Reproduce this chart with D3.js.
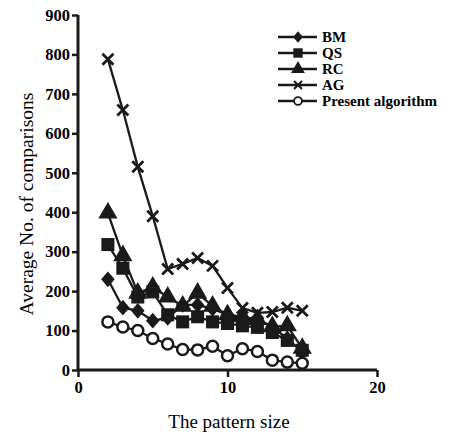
<!DOCTYPE html>
<html>
<head>
<meta charset="utf-8">
<script src="https://cdn.jsdelivr.net/npm/d3@7"></script>
<style>
  body { margin: 0; background: #fff; }
  svg text { font-family: "Liberation Serif", "Times New Roman", serif; fill: #000; }
</style>
</head>
<body>
<svg width="464" height="435"></svg>
<script>
// data ======================================================
var sizes = [2, 3, 4, 5, 6, 7, 8, 9, 10, 11, 12, 13, 14, 15];
var bm = [230, 158, 150, 125, 132, 165, 165, 155, 140, 128, 130, 108, 80, 45];
var qs = [318, 258, 185, 198, 140, 122, 135, 122, 118, 112, 108, 95, 75, 50];
var rc = [398, 290, 195, 210, 185, 162, 195, 162, 140, 135, 128, 110, 112, 55];
var ag = [788, 659, 515, 390, 256, 269, 284, 264, 208, 157, 145, 147, 158, 150];
var present = [122, 109, 100, 80, 66, 52, 51, 60, 36, 54, 47, 25, 20, 17];
var seriesNames = ["BM", "QS", "RC", "AG", "Present algorithm"];
var xTicks = [0, 10, 20];
var yTicks = [0, 100, 200, 300, 400, 500, 600, 700, 800, 900];

var ink = "#1a1a1a";

// setup =====================================================
var svg = d3.select("svg");
var x = d3.scaleLinear().domain([0, 20]).range([78, 377]);
var y = d3.scaleLinear().domain([0, 900]).range([370, 15]);

// axes
var xAxis = svg.append("g")
  .attr("transform", "translate(0,370)")
  .call(d3.axisBottom(x).tickValues(xTicks).tickSize(7).tickPadding(4).tickFormat(d3.format("d")));
var yAxis = svg.append("g")
  .attr("transform", "translate(78,0)")
  .call(d3.axisLeft(y).tickValues(yTicks).tickSize(6).tickPadding(2).tickFormat(d3.format("d")));

[xAxis, yAxis].forEach(function(a) {
  a.select(".domain").attr("stroke", ink).attr("stroke-width", 3);
  a.selectAll(".tick line").attr("stroke", ink).attr("stroke-width", 2.5);
  a.selectAll(".tick text")
    .attr("fill", "#000")
    .style("font-family", "'Liberation Serif', serif")
    .style("font-weight", "bold")
    .style("font-size", "16.5px");
});
xAxis.select(".domain").attr("d", "M78,0H377");
yAxis.select(".domain").attr("d", "M0,15V370");

// axis titles
svg.append("text")
  .attr("x", 229).attr("y", 428)
  .attr("text-anchor", "middle")
  .style("font-size", "19px")
  .text("The pattern size");
svg.append("text")
  .attr("transform", "translate(33,204) rotate(-90)")
  .attr("text-anchor", "middle")
  .style("font-size", "19.5px")
  .text("Average No. of comparisons");

// markers ===================================================
function drawMarker(g, type) {
  if (type == "diamond") {
    g.append("path").attr("d", d3.symbol().type(d3.symbolDiamond2).size(130)).attr("fill", ink).attr("transform", "scale(0.95,1.1)");
  } else if (type == "square") {
    g.append("path").attr("d", d3.symbol().type(d3.symbolSquare).size(170)).attr("fill", ink);
  } else if (type == "triangle") {
    g.append("path").attr("d", d3.symbol().type(d3.symbolTriangle).size(160)).attr("fill", ink);
  } else if (type == "cross") {
    g.append("path").attr("d", "M-5.5,-5.5L5.5,5.5M-5.5,5.5L5.5,-5.5").attr("stroke", ink).attr("stroke-width", 2.8).attr("fill", "none");
  } else if (type == "circle") {
    g.append("circle").attr("r", 5.5).attr("fill", "#fff").attr("stroke", ink).attr("stroke-width", 2.5);
  }
}

var series = [
  { name: seriesNames[0], values: bm, marker: "diamond" },
  { name: seriesNames[1], values: qs, marker: "square" },
  { name: seriesNames[2], values: rc, marker: "triangle" },
  { name: seriesNames[3], values: ag, marker: "cross" },
  { name: seriesNames[4], values: present, marker: "circle" }
];

var line = d3.line()
  .x(function(d) { return x(d[0]); })
  .y(function(d) { return y(d[1]); });

series.forEach(function(s) {
  var pts = sizes.map(function(n, i) { return [n, s.values[i]]; });
  svg.append("path")
    .datum(pts)
    .attr("d", line)
    .attr("fill", "none")
    .attr("stroke", ink)
    .attr("stroke-width", 2.3);
  pts.forEach(function(p) {
    var g = svg.append("g").attr("transform", "translate(" + x(p[0]) + "," + y(p[1]) + ")");
    drawMarker(g, s.marker);
  });
});

// legend ====================================================
var legend = svg.append("g").attr("transform", "translate(278,37)");
series.forEach(function(s, i) {
  var row = legend.append("g").attr("transform", "translate(0," + (i * 16) + ")");
  row.append("line").attr("x1", 0).attr("x2", 39).attr("y1", 0).attr("y2", 0)
    .attr("stroke", ink).attr("stroke-width", 2.3);
  var m = row.append("g").attr("transform", "translate(20,0) scale(0.72)");
  drawMarker(m, s.marker);
  row.append("text")
    .attr("x", 44).attr("y", 5)
    .style("font-size", "15px")
    .style("font-weight", "bold")
    .text(s.name);
});
</script>
</body>
</html>
